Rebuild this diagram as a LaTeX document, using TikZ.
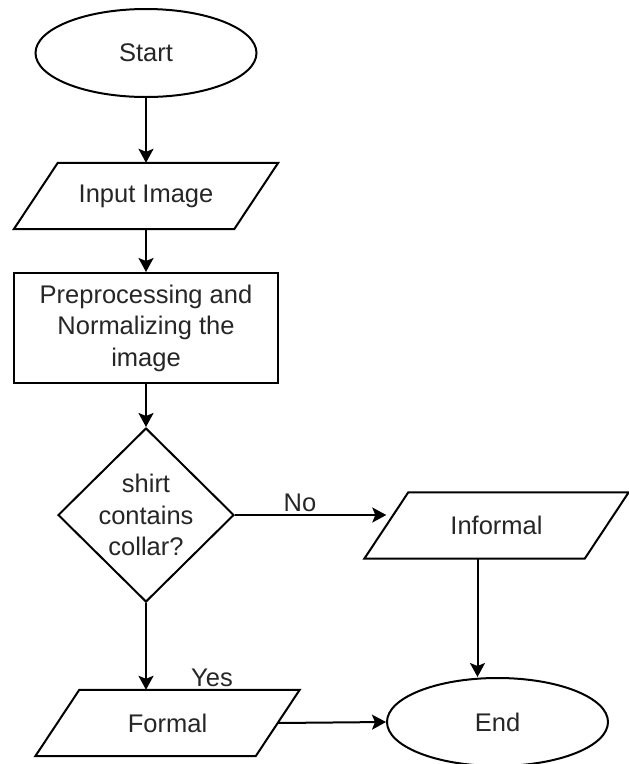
\documentclass[tikz,border=0pt]{standalone}
\usepackage{fontspec}
\setmainfont{Liberation Sans}
\usetikzlibrary{shapes.geometric,arrows.meta,calc}

\tikzset{
  every node/.style={font=\fontsize{25.5}{31.5}\selectfont, text=black!85, align=center},
  outline/.style={draw, line width=2pt, line join=miter},
  box/.style={outline, fill=white},
  terminal/.style={box, ellipse, minimum width=221pt, minimum height=88pt, inner sep=0pt},
  iobox/.style={rectangle, minimum width=220pt, minimum height=66pt, inner sep=0pt},
  process/.style={box, rectangle, minimum width=264pt, minimum height=110pt, inner sep=0pt},
  decision/.style={box, diamond, minimum width=176pt, minimum height=174pt, inner sep=-3pt},
  flow/.style={line width=2pt, -{Stealth[length=14pt, width=15pt, inset=3pt]}},
  edgetext/.style={inner sep=0pt}
}

% slanted input/output outline around a named iobox node
\newcommand\ioshape[1]{%
  \draw[outline] ($(#1.south west)+(-22pt,0)$) -- ($(#1.south east)+(-22pt,0)$)
    -- ($(#1.north east)+(22pt,0)$) -- ($(#1.north west)+(22pt,0)$) -- cycle;}

\begin{document}
\begin{tikzpicture}[x=1pt, y=-1pt]
  \useasboundingbox (0,0) rectangle (629,764);

  % shapes of the flow chart
  \node[terminal] (start) at (146,53) {Start};
  \node[iobox]    (input) at (146,196) {Input Image};
  \node[process]  (prep)  at (146,328) {Preprocessing and\\Normalizing the\\image};
  \node[decision] (dec)   at (146,515) {shirt\\contains\\collar?};
  \node[iobox]    (inf)   at (496.5,525.5) {Informal};
  \node[iobox]    (formal) at (167.5,723) {Formal};
  \node[terminal] (end)   at (497.5,722) {End};

  \ioshape{input}
  \ioshape{inf}
  \ioshape{formal}

  % exit point on the lower side of the Informal box
  \coordinate (infout) at ($(inf.south)+(-19pt,0)$);

  % connectors
  \draw[flow] (start.south) -- (input.north);
  \draw[flow] (input.south) -- (prep.north);
  \draw[flow] (prep.south) -- (dec.north);
  \draw[flow] (dec.east) -- (dec.east -| inf.west);
  \draw[flow] (dec.south) -- (dec.south |- formal.north);
  \draw[flow] (infout) -- (infout |- end.north);
  \draw[flow] (formal.east) -- (end.west);

  % branch labels
  \node[edgetext] (nolabel)  at (300,503) {No};
  \node[edgetext] (yeslabel) at (212,678) {Yes};
\end{tikzpicture}
\end{document}
